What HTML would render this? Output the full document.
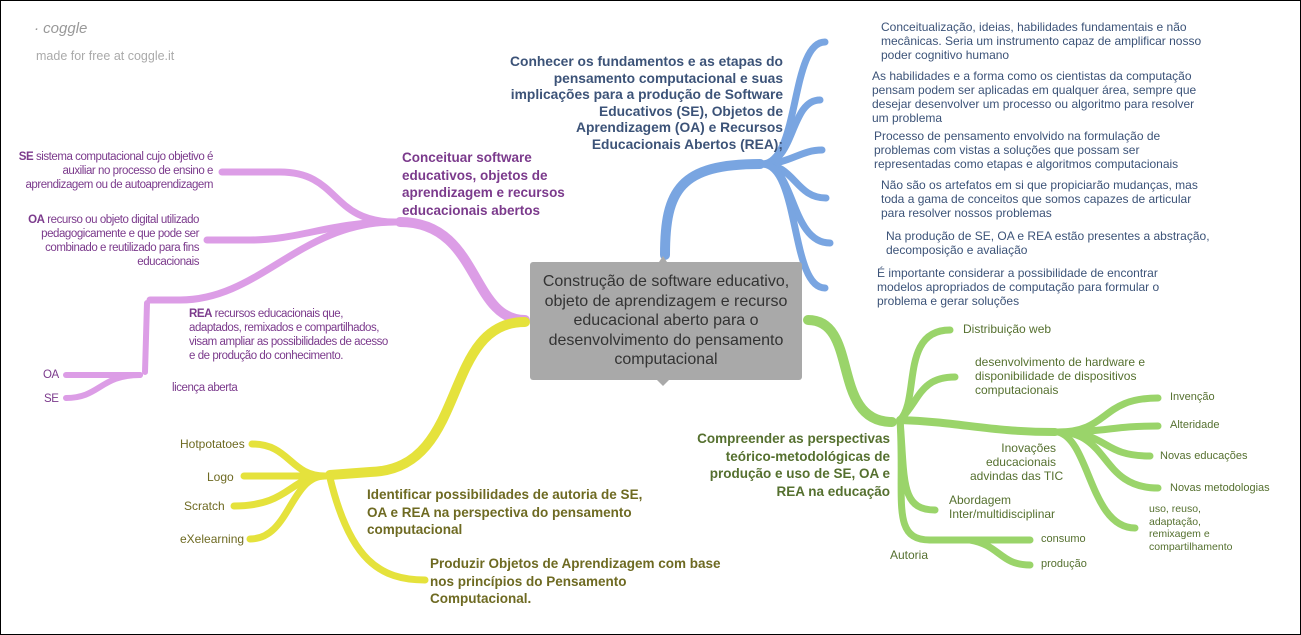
<!DOCTYPE html>
<html><head><meta charset="utf-8"><style>
body{margin:0;width:1301px;height:635px;overflow:hidden;background:#fff;font-family:"Liberation Sans",sans-serif;}
#f{position:absolute;left:0;top:0;width:1299px;height:633px;border:1px solid #000;}
.t{position:absolute;font-size:12px;line-height:17px;white-space:nowrap;}
.b{font-weight:bold;font-size:13.5px;line-height:17.5px;}
.p{color:#7b3a8c}.bl{color:#3c5378}.g{color:#55702f}.y{color:#6e6a22}
.r{text-align:right}.c{text-align:center}
.n{font-size:11.5px;letter-spacing:-0.45px;line-height:14px}
</style></head><body><div id="f"></div>
<svg width="1301" height="635" style="position:absolute;left:0;top:0" fill="none" stroke-linecap="round">
<!-- purple -->
<g stroke="#dc9de6">
<path d="M525,320 C470,320 480,222 400,222" stroke-width="10"/>
<path d="M395,222 C330,222 340,172 280,172 L222,172" stroke-width="7"/>
<path d="M395,222 C330,222 300,240 250,240 L207,240" stroke-width="7"/>
<path d="M395,222 C300,222 260,300 180,300 L150,300" stroke-width="7"/>
<path d="M147,303 L145,372" stroke-width="6"/>
<path d="M140,375 L66,375" stroke-width="6"/>
<path d="M140,375 C100,375 100,398 66,398" stroke-width="6"/>
</g>
<!-- yellow -->
<g stroke="#e5e23c">
<path d="M525,322 C440,322 470,470 370,472 L330,475" stroke-width="10"/>
<path d="M325,476 C290,476 290,444 252,444" stroke-width="7"/>
<path d="M325,476 L244,476" stroke-width="7"/>
<path d="M325,476 C290,476 290,506 234,506" stroke-width="7"/>
<path d="M325,476 C290,476 290,539 250,539" stroke-width="7"/>
<path d="M330,478 C350,560 380,580 425,580" stroke-width="7"/>
</g>
<!-- blue -->
<g stroke="#79a5e1">
<path d="M665,255 C665,190 680,164 760,164" stroke-width="10"/>
<path d="M762,164 C800,164 790,42 825,42" stroke-width="7"/>
<path d="M762,164 C795,164 790,100 820,100" stroke-width="7"/>
<path d="M762,164 C790,164 800,150 822,150" stroke-width="7"/>
<path d="M762,164 C795,164 795,198 826,198" stroke-width="7"/>
<path d="M762,164 C795,164 790,243 830,243" stroke-width="7"/>
<path d="M762,164 C800,164 790,288 825,288" stroke-width="7"/>
</g>
<!-- green -->
<g stroke="#9ad46a">
<path d="M808,320 C860,320 830,422 892,422" stroke-width="10"/>
<path d="M900,420 C920,400 900,330 950,330" stroke-width="7"/>
<path d="M900,420 C920,400 920,377 955,377" stroke-width="7"/>
<path d="M900,420 C960,422 990,432 1055,432" stroke-width="8"/>
<path d="M900,420 C905,480 900,510 935,510" stroke-width="7"/>
<path d="M900,420 C905,500 890,540 930,540" stroke-width="7"/>
<path d="M930,540 L1030,540" stroke-width="7"/>
<path d="M970,540 C1000,545 1000,565 1030,565" stroke-width="7"/>
<path d="M1058,432 C1110,432 1100,398 1158,398" stroke-width="7"/>
<path d="M1058,432 C1110,432 1110,426 1158,426" stroke-width="7"/>
<path d="M1058,432 C1110,432 1100,456 1150,456" stroke-width="7"/>
<path d="M1058,432 C1110,432 1100,488 1158,488" stroke-width="7"/>
<path d="M1058,432 C1090,440 1090,528 1135,528" stroke-width="7"/>
</g>
<rect x="530" y="262" width="272" height="118" rx="3" fill="#a9a9a9"/>
<polygon points="657,380 669,380 663,386" fill="#a9a9a9"/>
<polygon points="659,262 667,262 663,256" fill="#a9a9a9"/>
</svg>
<div class="t" style="left:34px;top:20px;color:#999;font-style:italic;font-size:15px">· coggle</div>
<div class="t" style="left:36px;top:48px;color:#aaa;font-size:12.5px">made for free at coggle.it</div>
<div class="t c" style="left:531px;top:272px;width:270px;font-size:16px;line-height:19.5px;color:#333;white-space:normal">Construção de software educativo, objeto de aprendizagem e recurso educacional aberto para o desenvolvimento do pensamento computacional</div>

<div class="t b r bl" style="left:470px;top:54px;width:313px;font-size:13.8px;line-height:16.6px">Conhecer os fundamentos e as etapas do<br>pensamento computacional e suas<br>implicações para a produção de Software<br>Educativos (SE), Objetos de<br>Aprendizagem (OA) e Recursos<br>Educacionais Abertos (REA);</div>
<div class="t bl" style="left:881px;top:20px;line-height:14px">Conceitualização, ideias, habilidades fundamentais e não<br>mecânicas. Seria um instrumento capaz de amplificar nosso<br>poder cognitivo humano</div>
<div class="t bl" style="left:872px;top:69px;line-height:14px">As habilidades e a forma como os cientistas da computação<br>pensam podem ser aplicadas em qualquer área, sempre que<br>desejar desenvolver um processo ou algoritmo para resolver<br>um problema</div>
<div class="t bl" style="left:874px;top:129px;line-height:14px">Processo de pensamento envolvido na formulação de<br>problemas com vistas a soluções que possam ser<br>representadas como etapas e algoritmos computacionais</div>
<div class="t bl" style="left:881px;top:178px;line-height:14px">Não são os artefatos em si que propiciarão mudanças, mas<br>toda a gama de conceitos que somos capazes de articular<br>para resolver nossos problemas</div>
<div class="t bl" style="left:886px;top:229px;line-height:14px">Na produção de SE, OA e REA estão presentes a abstração,<br>decomposição e avaliação</div>
<div class="t bl" style="left:877px;top:266px;line-height:14px">É importante considerar a possibilidade de encontrar<br>modelos apropriados de computação para formular o<br>problema e gerar soluções</div>

<div class="t b p" style="left:402px;top:149px">Conceituar software<br>educativos, objetos de<br>aprendizagem e recursos<br>educacionais abertos</div>
<div class="t p r n" style="left:13px;top:150px;width:200px"><b>SE</b> sistema computacional cujo objetivo é<br>auxiliar no processo de ensino e<br>aprendizagem ou de autoaprendizagem</div>
<div class="t p r n" style="left:0px;top:213px;width:199px"><b>OA</b> recurso ou objeto digital utilizado<br>pedagogicamente e que pode ser<br>combinado e reutilizado para fins<br>educacionais</div>
<div class="t p n" style="left:189px;top:307px"><b>REA</b> recursos educacionais que,<br>adaptados, remixados e compartilhados,<br>visam ampliar as possibilidades de acesso<br>e de produção do conhecimento.</div>
<div class="t p n" style="left:43px;top:368px">OA</div>
<div class="t p n" style="left:44px;top:392px">SE</div>
<div class="t p n" style="left:172px;top:381px">licença aberta</div>

<div class="t y" style="left:180px;top:436px">Hotpotatoes</div>
<div class="t y" style="left:207px;top:469px">Logo</div>
<div class="t y" style="left:184px;top:498px">Scratch</div>
<div class="t y" style="left:180px;top:531px">eXelearning</div>
<div class="t b y" style="left:367px;top:486px">Identificar possibilidades de autoria de SE,<br>OA e REA na perspectiva do pensamento<br>computacional</div>
<div class="t b y" style="left:430px;top:555px">Produzir Objetos de Aprendizagem com base<br>nos princípios do Pensamento<br>Computacional.</div>

<div class="t b g r" style="left:660px;top:430px;width:230px">Compreender as perspectivas<br>teórico-metodológicas de<br>produção e uso de SE, OA e<br>REA na educação</div>
<div class="t g" style="left:963px;top:321px">Distribuição web</div>
<div class="t g" style="left:975px;top:355px;line-height:14px">desenvolvimento de hardware e<br>disponibilidade de dispositivos<br>computacionais</div>
<div class="t g r" style="left:970px;top:441px;width:86px;line-height:14px">Inovações<br>educacionais<br>advindas das TIC</div>
<div class="t g" style="left:949px;top:493px;line-height:14px">Abordagem<br>Inter/multidisciplinar</div>
<div class="t g" style="left:890px;top:547px">Autoria</div>
<div class="t g" style="left:1041px;top:531px;font-size:11px">consumo</div>
<div class="t g" style="left:1041px;top:556px;font-size:11px">produção</div>
<div class="t g" style="left:1170px;top:389px;font-size:11px">Invenção</div>
<div class="t g" style="left:1170px;top:417px;font-size:11px">Alteridade</div>
<div class="t g" style="left:1160px;top:448px;font-size:11px">Novas educações</div>
<div class="t g" style="left:1170px;top:480px;font-size:11px">Novas metodologias</div>
<div class="t g" style="left:1149px;top:503px;font-size:10.5px;line-height:12.5px">uso, reuso,<br>adaptação,<br>remixagem e<br>compartilhamento</div>
</body></html>
